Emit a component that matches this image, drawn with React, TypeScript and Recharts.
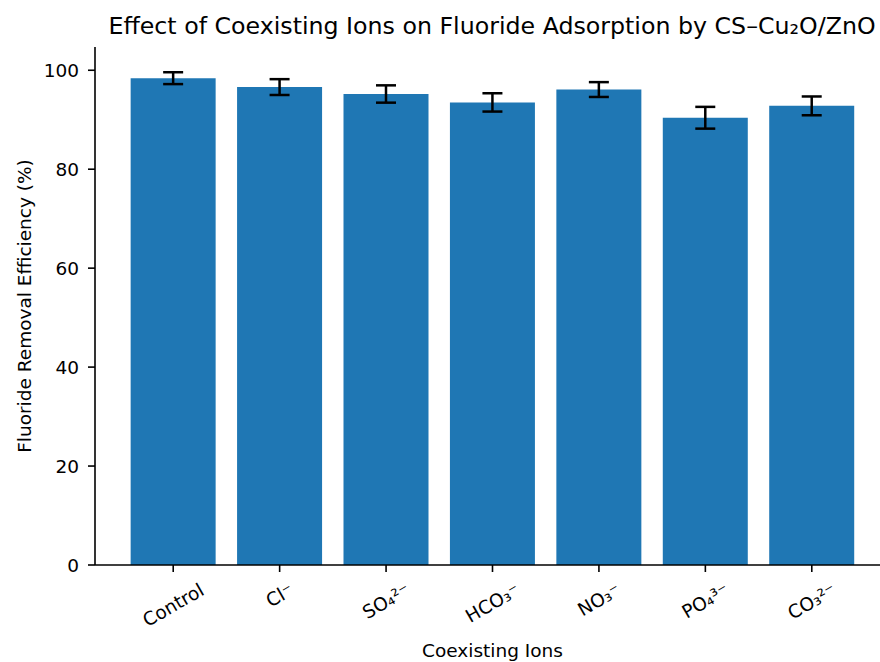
import { Bar, BarChart, ErrorBar, Label, XAxis, YAxis } from "recharts";

// values (percent removal, +/- error)
const ions = ["Control", "Cl⁻", "SO₄²⁻", "HCO₃⁻", "NO₃⁻", "PO₄³⁻", "CO₃²⁻"];
const removal = [98.4, 96.6, 95.2, 93.5, 96.1, 90.4, 92.8];
const removalErr = [1.2, 1.6, 1.75, 1.85, 1.5, 2.2, 1.9];
const yTicks = [0, 20, 40, 60, 80, 100];

const data = ions.map((ion, i) => ({ ion, removal: removal[i], err: removalErr[i] }));

const FONT = '"DejaVu Sans", sans-serif';
const TICK_PX = 18.5;

let measureCtx: CanvasRenderingContext2D | null = null;
function textWidth(s: string) {
  if (!measureCtx) {
    measureCtx = document.createElement("canvas").getContext("2d");
    if (measureCtx) measureCtx.font = `${TICK_PX}px "DejaVu Sans"`;
  }
  return measureCtx ? measureCtx.measureText(s).width : s.length * TICK_PX * 0.6;
}

// matplotlib-style rotation=30: rotated box centred under the tick, top at the pad
const RotatedTick = ({ x, y, payload }: any) => {
  const w = textWidth(payload.value);
  const h = TICK_PX * 1.16;
  const a = Math.PI / 6;
  const cy = y + (w * Math.sin(a) + h * Math.cos(a)) / 2;
  return (
    <text
      x={x}
      y={cy}
      transform={`rotate(-30 ${x} ${cy})`}
      textAnchor="middle"
      dominantBaseline="central"
      fontFamily={FONT}
      fontSize={TICK_PX}
      fill="#000"
    >
      {payload.value}
    </text>
  );
};

const YTitle = ({ viewBox }: any) => {
  const cx = viewBox.x + 24;
  const cy = viewBox.y + viewBox.height / 2;
  return (
    <text
      x={cx}
      y={cy}
      transform={`rotate(-90 ${cx} ${cy})`}
      textAnchor="middle"
      dominantBaseline="central"
      fontFamily={FONT}
      fontSize={TICK_PX}
      fill="#000"
    >
      Fluoride Removal Efficiency (%)
    </text>
  );
};

const XTitle = ({ viewBox }: any) => (
  <text
    x={viewBox.x + viewBox.width / 2}
    y={viewBox.y + 85}
    textAnchor="middle"
    dominantBaseline="central"
    fontFamily={FONT}
    fontSize={TICK_PX}
    fill="#000"
  >
    Coexisting Ions
  </text>
);

export default function App() {
  return (
    <div style={{ position: "fixed", left: 0, top: 0, width: 880, height: 662, overflow: "hidden", background: "#fff" }}>
      <div
        style={{
          position: "absolute",
          left: 0,
          top: 15,
          width: 984,
          textAlign: "center",
          fontFamily: FONT,
          fontSize: 23.7,
          lineHeight: "23.7px",
          color: "#000",
          whiteSpace: "nowrap",
        }}
      >
        Effect of Coexisting Ions on Fluoride Adsorption by CS–Cu₂O/ZnO
      </div>
      <BarChart width={900} height={662} data={data} margin={{ top: 47, right: 10, bottom: 0, left: 0 }} barCategoryGap="10%">
        <XAxis
          dataKey="ion"
          height={97}
          padding={{ left: 25, right: 25 }}
          axisLine={{ stroke: "#000", strokeWidth: 1.6 }}
          tickLine={{ stroke: "#000", strokeWidth: 1.6 }}
          tickSize={7}
          tickMargin={7}
          tick={<RotatedTick />}
          interval={0}
        >
          <Label content={<XTitle />} />
        </XAxis>
        <XAxis
          xAxisId="top"
          orientation="top"
          dataKey="ion"
          height={0}
          padding={{ left: 25, right: 25 }}
          tick={false}
          tickLine={false}
          axisLine={{ stroke: "#000", strokeWidth: 1.6 }}
        />
        <YAxis
          width={95}
          domain={[0, 104.7]}
          ticks={yTicks}
          allowDataOverflow
          axisLine={{ stroke: "#000", strokeWidth: 1.6 }}
          tickLine={{ stroke: "#000", strokeWidth: 1.6 }}
          tickSize={7}
          tickMargin={9}
          tick={{ fontFamily: FONT, fontSize: TICK_PX, fill: "#000" }}
        >
          <Label content={<YTitle />} />
        </YAxis>
        <Bar dataKey="removal" fill="#1f77b4" isAnimationActive={false}>
          <ErrorBar dataKey="err" width={10} stroke="#000" strokeWidth={2.5} direction="y" isAnimationActive={false} />
        </Bar>
      </BarChart>
    </div>
  );
}
